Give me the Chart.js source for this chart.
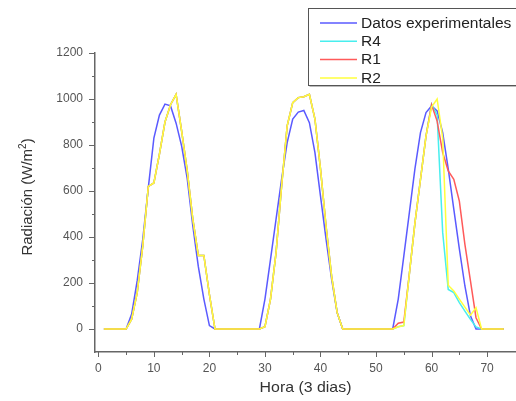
<!DOCTYPE html>
<html>
<head>
<meta charset="utf-8">
<script src="https://cdn.jsdelivr.net/npm/chart.js@4.4.1/dist/chart.umd.min.js"></script>
<style>
  html, body { margin: 0; padding: 0; background: #fff; }
</style>
</head>
<body>
<canvas id="radChart" width="516" height="401"></canvas>
<script>
// hours 1..73 (3 days)
const horas = Array.from({ length: 73 }, (_, i) => i + 1);

// Datos experimentales
const experimental = [
  0, 0, 0, 0, 0,
  65, 210, 390, 615, 830, 930, 978, 970, 895, 795, 655, 450, 272, 130, 15,
  0, 0, 0, 0, 0, 0, 0, 0, 0,
  130, 303, 478, 652, 810, 913, 943, 950, 897, 767, 578, 391, 217, 71,
  0, 0, 0, 0, 0, 0, 0, 0, 0, 0,
  130, 317, 506, 696, 854, 941, 970, 948, 854, 696, 521, 348, 187, 57,
  0, 0, 0, 0, 0, 0
];

const r4 = [
  0, 0, 0, 0, 0,
  43, 158, 361, 620, 635, 760, 900, 975, 1020, 860, 690, 480, 320, 320, 150,
  0, 0, 0, 0, 0, 0, 0, 0, 0,
  10, 130, 332, 622, 883, 984, 1006, 1010, 1020, 913, 696, 448, 230, 71,
  0, 0, 0, 0, 0, 0, 0, 0, 0, 0,
  10, 15, 240, 460, 650, 840, 978, 930, 420, 172, 158, 115, 78, 42, 9,
  0, 0, 0, 0, 0
];

const r1 = [
  0, 0, 0, 0, 0,
  43, 158, 361, 620, 635, 760, 900, 975, 1020, 860, 690, 480, 320, 320, 150,
  0, 0, 0, 0, 0, 0, 0, 0, 0,
  10, 130, 332, 622, 883, 984, 1006, 1010, 1020, 913, 696, 448, 230, 71,
  0, 0, 0, 0, 0, 0, 0, 0, 0, 0,
  25, 30, 240, 460, 650, 840, 975, 904, 767, 687, 651, 556, 368, 209, 49,
  0, 0, 0, 0, 0
];

const r2 = [
  0, 0, 0, 0, 0,
  43, 158, 361, 620, 635, 760, 900, 975, 1020, 860, 690, 480, 320, 320, 150,
  0, 0, 0, 0, 0, 0, 0, 0, 0,
  10, 130, 332, 622, 883, 984, 1006, 1010, 1020, 913, 696, 448, 230, 71,
  0, 0, 0, 0, 0, 0, 0, 0, 0, 0,
  10, 15, 240, 460, 650, 840, 965, 1000, 830, 190, 165, 130, 95, 60, 93,
  0, 0, 0, 0, 0
];

const xTickValues = [0, 5, 10, 15, 20, 25, 30, 35, 40, 45, 50, 55, 60, 65, 70];
const yTickValues = [0, 100, 200, 300, 400, 500, 600, 700, 800, 900, 1000, 1100, 1200];

const axisColor = '#666';
const textColor = '#555';
const font = 'Liberation Sans, Arial, sans-serif';

function serie(label, values, color, order) {
  return {
    label: label,
    data: horas.map((h, i) => ({ x: h, y: values[i] })),
    borderColor: color,
    borderWidth: 1.5,
    pointRadius: 0,
    tension: 0,
    fill: false,
    order: order
  };
}

// draws text squeezed/stretched horizontally
function wideText(ctx, txt, x, y, sx) {
  ctx.save();
  ctx.translate(x, y);
  ctx.scale(sx, 1);
  ctx.fillText(txt, 0, 0);
  ctx.restore();
}

// tick marks, axis titles and legend box
const decoPlugin = {
  id: 'deco',
  afterDraw(chart) {
    const ctx = chart.ctx;
    const xs = chart.scales.x, ys = chart.scales.y;
    const area = chart.chartArea;
    ctx.save();
    ctx.strokeStyle = axisColor;
    ctx.lineWidth = 1;
    xTickValues.forEach(v => {
      const px = Math.round(xs.getPixelForValue(v)) + 0.5;
      const len = v % 10 === 0 ? 5 : 3;
      ctx.beginPath();
      ctx.moveTo(px, area.bottom);
      ctx.lineTo(px, area.bottom + len);
      ctx.stroke();
    });
    yTickValues.forEach(v => {
      const py = Math.round(ys.getPixelForValue(v)) + 0.5;
      const len = v % 200 === 0 ? 6 : 3;
      ctx.beginPath();
      ctx.moveTo(area.left, py);
      ctx.lineTo(area.left - len, py);
      ctx.stroke();
    });

    // axis titles
    ctx.fillStyle = '#333';
    ctx.font = '15px ' + font;
    ctx.textBaseline = 'middle';
    ctx.textAlign = 'center';
    wideText(ctx, 'Hora (3 dias)', (area.left + area.right) / 2, 388, 1.06);

    ctx.save();
    ctx.translate(28, 197);
    ctx.rotate(-Math.PI / 2);
    const main = 'Radiación (W/m';
    ctx.font = '15px ' + font;
    const w1 = ctx.measureText(main).width;
    const w3 = ctx.measureText(')').width;
    ctx.font = '10px ' + font;
    const w2 = ctx.measureText('2').width;
    const x0 = -(w1 + w2 + w3) / 2;
    ctx.textAlign = 'left';
    ctx.font = '15px ' + font;
    ctx.fillText(main, x0, 0);
    ctx.font = '10px ' + font;
    ctx.fillText('2', x0 + w1, -5);
    ctx.font = '15px ' + font;
    ctx.fillText(')', x0 + w1 + w2, 0);
    ctx.restore();

    // legend
    const lx = 308.5, ly = 8.5, lw = 212, lh = 77;
    ctx.fillStyle = '#fff';
    ctx.fillRect(lx, ly, lw, lh);
    ctx.strokeStyle = '#555';
    ctx.lineWidth = 1;
    ctx.strokeRect(lx, ly, lw, lh);
    ctx.strokeStyle = '#bbb';
    ctx.beginPath();
    ctx.moveTo(lx + 1, ly + lh + 1);
    ctx.lineTo(lx + lw, ly + lh + 1);
    ctx.stroke();
    const items = [0, 1, 2, 3].map(i => chart.data.datasets[i]);
    ctx.font = '14px ' + font;
    ctx.textAlign = 'left';
    ctx.textBaseline = 'middle';
    items.forEach((ds, k) => {
      const y = 23 + k * 18.3;
      ctx.strokeStyle = ds.borderColor;
      ctx.lineWidth = 1.5;
      ctx.beginPath();
      ctx.moveTo(320, y);
      ctx.lineTo(357, y);
      ctx.stroke();
      ctx.fillStyle = '#222';
      wideText(ctx, ds.label, 361, y + 1, 1.11);
    });
    ctx.restore();
  }
};

new Chart(document.getElementById('radChart').getContext('2d'), {
  type: 'line',
  data: {
    datasets: [
      serie('Datos experimentales', experimental, '#5a5aff', 3),
      serie('R4', r4, '#48eeee', 2),
      serie('R1', r1, '#ff5a5a', 1),
      serie('R2', r2, '#ffff3c', 0)
    ]
  },
  options: {
    responsive: false,
    animation: false,
    layout: { padding: { top: 53, right: 0, left: 0, bottom: 0 } },
    plugins: {
      legend: { display: false },
      tooltip: { enabled: false }
    },
    scales: {
      x: {
        type: 'linear',
        min: -0.6,
        max: 75.2,
        afterBuildTicks: s => { s.ticks = xTickValues.map(v => ({ value: v })); },
        afterFit: s => { s.height = 49; },
        grid: { display: false, drawTicks: false },
        border: { display: true, color: axisColor, width: 1.5 },
        ticks: {
          autoSkip: false,
          maxRotation: 0,
          padding: 9,
          color: textColor,
          font: { family: font, size: 12 },
          callback: v => (v % 10 === 0 ? v : '')
        }
      },
      y: {
        type: 'linear',
        min: -100,
        max: 1200,
        afterBuildTicks: s => { s.ticks = yTickValues.map(v => ({ value: v })); },
        afterFit: s => { s.width = 95; },
        grid: { display: false, drawTicks: false },
        border: { display: true, color: axisColor, width: 1.5 },
        ticks: {
          autoSkip: false,
          padding: 12,
          color: textColor,
          font: { family: font, size: 12 },
          callback: v => (v % 200 === 0 ? v : '')
        }
      }
    }
  },
  plugins: [decoPlugin]
});
</script>
</body>
</html>
